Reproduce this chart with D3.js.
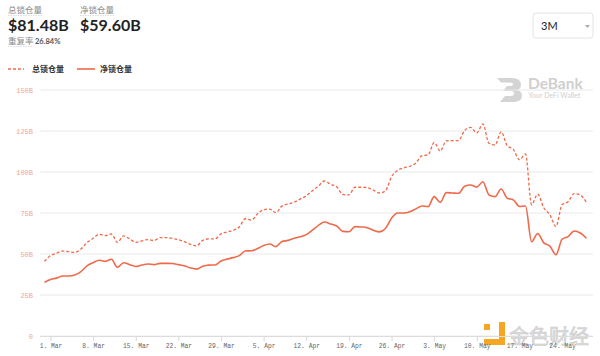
<!DOCTYPE html>
<html><head><meta charset="utf-8">
<script src="https://cdn.jsdelivr.net/npm/d3@7"></script>
<style>
html,body{margin:0;padding:0;background:#fff;}
svg{display:block;}
</style></head>
<body>
<svg id="chart" width="600" height="356"></svg>
<script>
// ---- data ----
const startDate = "2021-02-28"; // daily points from this date
const totalLocked = [45.5,49,50.5,51.8,51.4,51,53,57,59.6,62,61.2,62.2,57.1,61,59.2,57.1,58,58.8,58.2,60,60,59.5,58.7,57.5,55.8,55,58.3,59.2,59.2,62.3,63.5,64.5,66.5,71.5,70.7,74.5,77,77.4,75.2,79.2,80.5,81.6,83.5,85.5,88.5,91.5,94.5,92.5,91,86.3,86,90.7,90.7,90.5,89,87.2,88.5,97.1,101,102.5,103.5,105.5,110,110.4,118,112.8,119,119.1,119.1,125.3,127.2,123.8,129.3,117.5,116.5,124.5,116,113.8,107.5,111,80,86.5,78.2,74,66.8,80,81.9,86.8,86,81.48];
const netLocked = [32.7,34.5,35.3,36.6,36.6,37.2,39.3,42.8,44.7,46.2,45.5,46.8,41.9,44.7,43.5,42.4,43.3,43.9,43.5,44.3,44.3,44.2,43.5,42.8,41.5,40.8,42.5,43.2,43.3,45.7,46.9,47.8,49,51.8,52,53.3,55.2,56.1,54.5,57.6,58.3,59.6,60.5,61.8,64.5,67.5,69.5,68.3,67.1,63.8,63.6,66.7,66.5,66,64.5,63.5,65.5,71.8,75,75,75.8,77.5,79.3,78.9,85,81.5,87.4,87.2,87,91.3,92.1,90.8,94.1,86,85,89.6,84,83,79,79.3,57.5,62.5,56.8,54.8,49.5,59,60.6,64,62.8,59.6];
const yTicks = [0,25,50,75,100,125,150];
const yTickLabels = ["0","25B","50B","75B","100B","125B","150B"];
const xTickDates = ["2021-03-01","2021-03-08","2021-03-15","2021-03-22","2021-03-29","2021-04-05","2021-04-12","2021-04-19","2021-04-26","2021-05-03","2021-05-10","2021-05-17","2021-05-24"];
const xTickLabels = ["1. Mar","8. Mar","15. Mar","22. Mar","29. Mar","5. Apr","12. Apr","19. Apr","26. Apr","3. May","10. May","17. May","24. May"];
const seriesNames = ["总锁仓量","净锁仓量"];
const headerValues = ["$81.48B","$59.60B"];
const overlapLabel = "重复率", overlapValue = "26.84%";
const rangeLabel = "3M";

const parse = d3.timeParse("%Y-%m-%d");
const d0 = parse(startDate);
const dates = totalLocked.map((_, i) => d3.timeDay.offset(d0, i));

const color = "#ef6a4b";
const svg = d3.select("#chart");

// ---- header ----
const hdr = svg.append("g");
[[8,0],[80,1]].forEach(([x,i])=>{
  hdr.append("text").attr("x",x).attr("y",13).attr("font-family","'Noto Sans CJK SC'")
    .attr("font-size",8.5).attr("fill","#8a8a8a").text(seriesNames[i]);
  hdr.append("line").attr("x1",x).attr("x2",x+34).attr("y1",15.5).attr("y2",15.5)
    .attr("stroke","#c8c8c8").attr("stroke-width",0.6).attr("stroke-dasharray","1.5,1");
  hdr.append("text").attr("x",x).attr("y",31).attr("font-family","Lato")
    .attr("font-weight",700).attr("font-size",16).attr("fill","#222").text(headerValues[i]);
});
hdr.append("text").attr("x",8).attr("y",44).attr("font-family","'Noto Sans CJK SC'")
  .attr("font-size",8.5).attr("fill","#8a8a8a").text(overlapLabel);
hdr.append("line").attr("x1",8).attr("x2",33).attr("y1",46.5).attr("y2",46.5)
  .attr("stroke","#c8c8c8").attr("stroke-width",0.6).attr("stroke-dasharray","1.5,1");
hdr.append("text").attr("x",35).attr("y",44).attr("font-family","Lato")
  .attr("font-size",7.5).attr("font-weight",700).attr("fill","#555").text(overlapValue);

// dropdown
const dd = svg.append("g");
dd.append("rect").attr("x",533).attr("y",13).attr("width",60).attr("height",25).attr("rx",3)
  .attr("fill","#fff").attr("stroke","#e4e4e4").attr("stroke-width",1);
dd.append("text").attr("x",541).attr("y",29.5).attr("font-family","Lato").attr("font-size",11)
  .attr("fill","#222").text(rangeLabel);
dd.append("path").attr("d","M585,25 L590,25 L587.5,28 Z").attr("fill","#aaa");

// legend
const lg = svg.append("g");
lg.append("line").attr("x1",8).attr("x2",24).attr("y1",69).attr("y2",69)
  .attr("stroke",color).attr("stroke-width",1.3).attr("stroke-dasharray","3,2");
lg.append("text").attr("x",32).attr("y",72).attr("font-family","'Noto Sans CJK SC'")
  .attr("font-weight",700).attr("font-size",8).attr("fill","#333").text(seriesNames[0]);
lg.append("line").attr("x1",77).attr("x2",95).attr("y1",69).attr("y2",69)
  .attr("stroke",color).attr("stroke-width",1.6);
lg.append("text").attr("x",100).attr("y",72).attr("font-family","'Noto Sans CJK SC'")
  .attr("font-weight",700).attr("font-size",8).attr("fill","#333").text(seriesNames[1]);

// ---- scales ----
const x = d3.scaleTime().domain([dates[0], dates[dates.length-1]]).range([44.4, 586.4]);
const y = d3.scaleLinear().domain([0,150]).range([336,90]);
const gridX0 = 40, gridX1 = 593;

// DeBank watermark
const wm = svg.append("g");
wm.append("path").attr("d","M497,78 L512,78 Q521,78 521,85 Q521,89 517,90 Q522,91 522,96 Q522,102 512,102 L500,102 L505,96 L511,96 Q514,96 514,93.5 Q514,91 511,91 L503,91 L507,86 L510,86 Q513,86 513,84 Q513,82.5 510,82.5 L501,82.5 Z")
  .attr("fill","#d4d4d4");
wm.append("text").attr("x",528).attr("y",89).attr("font-family","Lato").attr("font-weight",700)
  .attr("font-size",15.5).attr("fill","#cfcfcf").text("DeBank");
wm.append("text").attr("x",528.5).attr("y",98).attr("font-family","Lato")
  .attr("font-size",7).attr("fill","#cfcfcf").text("Your DeFi Wallet");

// gridlines
svg.append("g").selectAll("line").data(yTicks).join("line")
  .attr("x1",gridX0).attr("x2",gridX1).attr("y1",d=>y(d)).attr("y2",d=>y(d))
  .attr("stroke","#e8e8e8").attr("stroke-width",1);

// y labels
svg.append("g").selectAll("text").data(yTicks).join("text")
  .attr("x",33).attr("y",d=>y(d)+2.5).attr("text-anchor","end")
  .attr("font-family","'Liberation Mono', monospace").attr("font-size",7)
  .attr("fill","#f0a593").text((d,i)=>yTickLabels[i]);

// 金色财经 watermark
const jw = svg.append("g");
jw.append("rect").attr("x",484).attr("y",324).attr("width",6).attr("height",6).attr("fill","#f5a623");
jw.append("path").attr("d","M499,322 L505,322 L505,345 L484,345 L484,339 L499,339 Z").attr("fill","#f5a623");
jw.append("text").attr("x",509).attr("y",344).attr("font-family","'Noto Sans CJK SC'")
  .attr("font-size",20).attr("fill","#dcdcdc").attr("stroke","#c9c9c9").attr("stroke-width",0.5)
  .text("金色财经");

// x axis
const xTicks = xTickDates.map(parse);
const xAxis = d3.axisBottom(x).tickValues(xTicks).tickSize(5).tickFormat((d,i)=>xTickLabels[i]);
const gx = svg.append("g").attr("transform","translate(0,336)").call(xAxis);
gx.select(".domain").attr("d",`M${gridX0},0.5H${gridX1}`).attr("stroke","#dcdcdc");
gx.selectAll(".tick line").attr("stroke","#d8d8d8");
gx.selectAll(".tick text").attr("font-family","'Liberation Mono', monospace").attr("font-size",6.3)
  .attr("fill","#666").attr("dy",0).attr("y",11.5);

// lines
const line = d3.line().x((d,i)=>x(dates[i])).y(d=>y(d)).curve(d3.curveMonotoneX);
svg.append("path").datum(totalLocked).attr("d",line).attr("fill","none")
  .attr("stroke",color).attr("stroke-width",1.3).attr("stroke-dasharray","3,2");
svg.append("path").datum(netLocked).attr("d",line).attr("fill","none")
  .attr("stroke",color).attr("stroke-width",1.6);
</script>
</body></html>
